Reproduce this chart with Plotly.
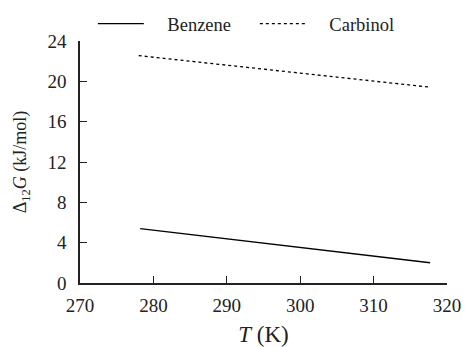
import plotly.graph_objects as go

T_benzene = [278.2, 288.0, 298.0, 308.0, 317.7]
G_benzene = [5.39, 4.55, 3.70, 2.85, 2.01]
T_carbinol = [278.0, 288.0, 298.0, 308.0, 317.8]
G_carbinol = [22.55, 21.75, 20.95, 20.2, 19.41]

x_ticks = [270, 280, 290, 300, 310, 320]
y_ticks = [0, 4, 8, 12, 16, 20, 24]

font_family = "Liberation Serif, Times New Roman, serif"
pad = "\u00a0" * 4

fig = go.Figure()
fig.add_trace(go.Scatter(x=T_benzene, y=G_benzene, mode="lines", name=pad + "Benzene",
                         line=dict(color="black", width=1.3)))
fig.add_trace(go.Scatter(x=T_carbinol, y=G_carbinol, mode="lines", name=pad + "Carbinol",
                         line=dict(color="black", width=1.3, dash="dot")))

fig.update_layout(
    width=466, height=347,
    margin=dict(l=80, r=19, t=41, b=64, autoexpand=False),
    plot_bgcolor="white", paper_bgcolor="white",
    font=dict(family=font_family, size=19, color="#222"),
    showlegend=True,
    legend=dict(orientation="h", x=0.035, xanchor="left", y=1.07, yanchor="middle",
                font=dict(size=18.5), bgcolor="rgba(0,0,0,0)",
                entrywidth=101, entrywidthmode="pixels", itemwidth=46,
                tracegroupgap=0),
    xaxis=dict(range=[270, 320], tickvals=x_ticks, ticks="inside", ticklen=7,
               tickwidth=1.3, tickcolor="#222", showline=True, linecolor="#222",
               linewidth=1.5, showgrid=False, zeroline=False, ticklabelstandoff=4,
               automargin=False,
               title=dict(text="<i>T</i> (K)", standoff=16)),
    yaxis=dict(range=[0, 24], tickvals=y_ticks, ticks="inside", ticklen=7,
               tickwidth=1.3, tickcolor="#222", showline=True, linecolor="#222",
               linewidth=1.5, showgrid=False, zeroline=False, ticklabelstandoff=8,
               automargin=False,
               title=dict(text="Δ<sub>12</sub><i>G</i> (kJ/mol)", font=dict(size=18), standoff=16)),
)

fig.write_html("out.html")
